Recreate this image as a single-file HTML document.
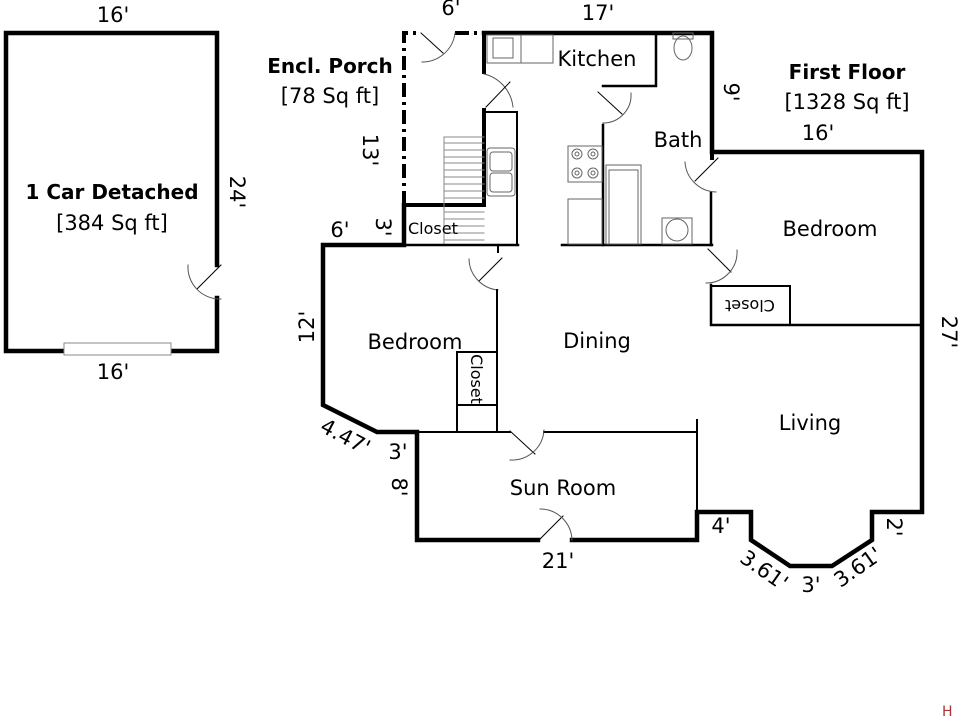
<!DOCTYPE html>
<html><head><meta charset="utf-8"><style>
html,body{margin:0;padding:0;background:#fff;width:960px;height:720px;overflow:hidden}
svg{display:block}
text{font-family:"DejaVu Sans","Liberation Sans",sans-serif;fill:#000}
</style></head><body>
<svg width="960" height="720" viewBox="0 0 960 720" xmlns="http://www.w3.org/2000/svg">
<g fill="none" stroke="#000" stroke-linecap="square">
<!-- garage -->
<path d="M64,351 H6 V33 H217 V265 M217,298 V351 H171" stroke-width="4.5"/>
<rect x="64" y="343" width="107" height="12" fill="#fff" stroke="#888" stroke-width="1"/>
<path d="M221,265 L197,289" stroke-width="1"/>
<path d="M188,265 A32,32 0 0 0 221,299" stroke-width="1" stroke="#555"/>

<!-- porch dash-dot -->
<path d="M404,205 V33 H421 M455,33 H484" stroke-width="4" stroke-dasharray="14,5,3,5" stroke-linecap="butt"/>
<path d="M421,33 L443,53" stroke-width="1"/>
<path d="M455,33 A33,33 0 0 1 422,62" stroke-width="1" stroke="#555"/>
<path d="M404,205 H484 V110 M484,33 V72" stroke-width="4"/>
<path d="M404,205 V245 H323 V405 L377,432 H417 V540 H538 M572,540 H697 V512 H751 V540 L790,566 H832 L872,540 V512 H922 V152 H712 V33 H484" stroke-width="4.5" stroke-linejoin="miter"/>
<!-- door porch-kitchen -->
<path d="M484,74 A38,38 0 0 1 513,107" stroke-width="1" stroke="#555"/>
<path d="M486,107 L510,82" stroke-width="1"/>
<!-- stairs -->
<g stroke="#888" stroke-width="1">
<path d="M444,137 H484 M444,137 V245"/>
<path d="M444,143 H484 M444,150 H484 M444,157 H484 M444,163 H484 M444,170 H484 M444,177 H484 M444,184 H484 M444,191 H484 M444,198 H484 M444,212 H484 M444,219 H484 M444,226 H484 M444,233 H484 M444,240 H484"/>
</g>
<path d="M484,112 H517 V245" stroke-width="2"/>
<rect x="487" y="148" width="28" height="48" rx="3" stroke="#666" stroke-width="1"/>
<rect x="490" y="152" width="22" height="19" rx="3" stroke="#666" stroke-width="1"/>
<rect x="490" y="173" width="22" height="19" rx="3" stroke="#666" stroke-width="1"/>
<path d="M404,245 H518 M562,245 H712" stroke-width="2.5"/>
<rect x="487" y="35" width="34" height="28" stroke="#666" stroke-width="1"/>
<rect x="493" y="38" width="20" height="20" stroke="#666" stroke-width="1"/>
<rect x="521" y="35" width="32" height="28" stroke="#666" stroke-width="1"/>
<path d="M656,33 V86 H603" stroke-width="2.5"/>
<path d="M603,125 V245" stroke-width="2.5"/>
<path d="M603,123 A28,28 0 0 0 631,93" stroke-width="1" stroke="#555"/>
<path d="M598,92 L622,114" stroke-width="1"/>
<rect x="568" y="146" width="34" height="36" stroke="#666" stroke-width="1"/>
<g stroke="#666" stroke-width="1">
<circle cx="577" cy="154" r="5"/><circle cx="577" cy="154" r="2"/>
<circle cx="593" cy="154" r="5"/><circle cx="593" cy="154" r="2"/>
<circle cx="577" cy="173" r="5"/><circle cx="577" cy="173" r="2"/>
<circle cx="593" cy="173" r="5"/><circle cx="593" cy="173" r="2"/>
<rect x="568" y="199" width="34" height="45"/>
<rect x="606" y="165" width="35" height="79"/>
<rect x="609" y="170" width="29" height="74"/>
<rect x="662" y="218" width="30" height="26"/>
<circle cx="677" cy="230" r="11"/>
<ellipse cx="683" cy="48" rx="9" ry="12"/>
<rect x="673" y="33" width="20" height="6"/>
</g>
<path d="M712,33 V158" stroke-width="4"/>
<path d="M711,193 V245" stroke-width="2.5"/>
<path d="M718,158 L695,181" stroke-width="1"/>
<path d="M685,162 A32,32 0 0 0 716,192" stroke-width="1" stroke="#555"/>
<path d="M711,285 V325 H922" stroke-width="2.5"/>
<rect x="711" y="286" width="79" height="39" stroke-width="2"/>
<path d="M708,249 L731,272" stroke-width="1"/>
<path d="M737,250 A31,31 0 0 1 706,283" stroke-width="1" stroke="#555"/>
<path d="M498,246 V252" stroke-width="2"/>
<path d="M502,258 L479,281" stroke-width="1"/>
<path d="M469,259 A32,32 0 0 0 498,290" stroke-width="1" stroke="#555"/>
<path d="M497,290 V432 H417" stroke-width="2"/>
<rect x="457" y="352" width="40" height="53" stroke-width="2"/>
<path d="M457,405 V432" stroke-width="2"/>
<path d="M497,432 H510 M544,432 H697 M697,420 V512" stroke-width="2"/>
<path d="M510,431 L535,454" stroke-width="1"/>
<path d="M544,430 A32,32 0 0 1 510,460" stroke-width="1" stroke="#555"/>
<!-- sun room door -->
<path d="M538,541 L563,516" stroke-width="1"/>
<path d="M540,509 A32,32 0 0 1 572,540" stroke-width="1" stroke="#555"/>
</g>
<g font-size="21">
<text x="113" y="22" text-anchor="middle">16'</text>
<text x="113" y="379" text-anchor="middle">16'</text>
<text x="112" y="199" text-anchor="middle" font-weight="bold" font-size="20">1 Car Detached</text>
<text x="112" y="230" text-anchor="middle">[384 Sq ft]</text>
<text x="330" y="73" text-anchor="middle" font-weight="bold" font-size="20">Encl. Porch</text>
<text x="330" y="103" text-anchor="middle">[78 Sq ft]</text>
<text x="847" y="79" text-anchor="middle" font-weight="bold" font-size="20">First Floor</text>
<text x="847" y="109" text-anchor="middle">[1328 Sq ft]</text>
<text x="818" y="140" text-anchor="middle">16'</text>
<text x="451" y="15" text-anchor="middle">6'</text>
<text x="598" y="20" text-anchor="middle">17'</text>
<text x="597" y="66" text-anchor="middle">Kitchen</text>
<text x="678" y="147" text-anchor="middle">Bath</text>
<text x="830" y="236" text-anchor="middle">Bedroom</text>
<text x="415" y="349" text-anchor="middle">Bedroom</text>
<text x="597" y="348" text-anchor="middle">Dining</text>
<text x="810" y="430" text-anchor="middle">Living</text>
<text x="563" y="495" text-anchor="middle">Sun Room</text>
<text x="340" y="237" text-anchor="middle">6'</text>
<text x="398" y="459" text-anchor="middle">3'</text>
<text x="558" y="568" text-anchor="middle">21'</text>
<text x="721" y="533" text-anchor="middle">4'</text>
<text x="811" y="592" text-anchor="middle">3'</text>
<text transform="translate(230,192) rotate(90)" text-anchor="middle">24'</text>
<text transform="translate(363,150) rotate(90)" text-anchor="middle">13'</text>
<text transform="translate(376,227) rotate(90)" text-anchor="middle">3'</text>
<text transform="translate(724,92) rotate(90)" text-anchor="middle">9'</text>
<text transform="translate(942,332) rotate(90)" text-anchor="middle">27'</text>
<text transform="translate(887,527) rotate(90)" text-anchor="middle">2'</text>
<text transform="translate(314,327) rotate(-90)" text-anchor="middle">12'</text>
<text transform="translate(392,487) rotate(90)" text-anchor="middle">8'</text>
<text transform="translate(342,443) rotate(28)" text-anchor="middle">4.47'</text>
<text transform="translate(760,576) rotate(35)" text-anchor="middle">3.61'</text>
<text transform="translate(862,573) rotate(-35)" text-anchor="middle">3.61'</text>
</g>
<g font-size="16">
<text x="408" y="234">Closet</text>
<text transform="translate(750,300) rotate(180)" text-anchor="middle">Closet</text>
<text transform="translate(471,379) rotate(90)" text-anchor="middle">Closet</text>
</g>
<text x="942" y="716" font-size="14" style="fill:#a33">H</text>
</svg>
</body></html>
